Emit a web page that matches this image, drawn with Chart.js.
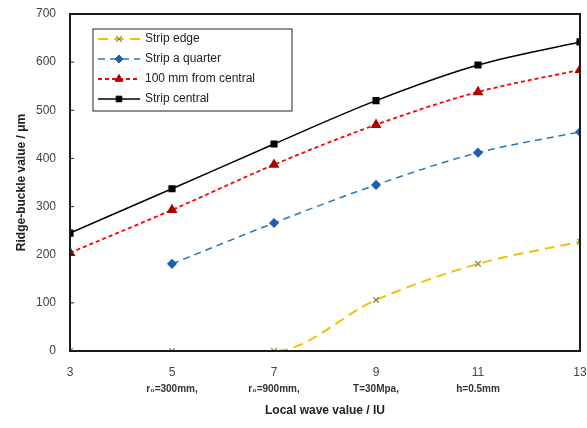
<!DOCTYPE html>
<html>
<head>
<meta charset="utf-8">
<script src="https://cdn.jsdelivr.net/npm/chart.js@4"></script>
<style>
  html, body { margin: 0; padding: 0; background: #fff; }
  #wrap { width: 587px; height: 428px; }
</style>
</head>
<body>
<div id="wrap"><canvas id="chart" width="587" height="428"></canvas></div>
<script>
// Values
const waveValues = [3, 5, 7, 9, 11, 13]
const stripEdge = [0, 0, 0, 106, 181, 227]
const stripQuarter = [null, 181, 266, 345, 412, 455]
const from100mm = [204, 293, 387, 470, 538, 584]
const stripCentral = [245, 337, 430, 520, 594, 642]
const subLabels = {5: 'r\u2080=300mm,', 7: 'r\u2080=900mm,', 9: 'T=30Mpa,', 11: 'h=0.5mm'}
const seriesNames = ['Strip edge', 'Strip a quarter', '100 mm from central', 'Strip central']

const FONT = "'Liberation Sans', Arial, sans-serif"

function toPoints(vals) {
  return waveValues.map((x, i) => ({x: x, y: vals[i]})).filter(p => p.y !== null)
}

const datasets = [{
  label: seriesNames[0],
  data: toPoints(stripEdge),
  borderColor: '#f2c200',
  borderWidth: 2,
  borderDash: [10, 6],
  pointStyle: 'crossRot',
  pointRadius: 4,
  pointBackgroundColor: '#8a7a50',
  pointBorderColor: '#8a7a50',
  pointBorderWidth: 1.2,
  cubicInterpolationMode: 'monotone'
}, {
  label: seriesNames[1],
  data: toPoints(stripQuarter),
  borderColor: '#2e75b6',
  borderWidth: 1.5,
  borderDash: [7, 5],
  pointStyle: 'rectRot',
  pointRadius: 4,
  pointBackgroundColor: '#1f5fb0',
  pointBorderColor: '#1f5fb0',
  cubicInterpolationMode: 'monotone'
}, {
  label: seriesNames[2],
  data: toPoints(from100mm),
  borderColor: '#ff0000',
  borderWidth: 1.8,
  borderDash: [4, 3],
  pointStyle: 'triangle',
  pointRadius: 4.5,
  pointBackgroundColor: '#b00000',
  pointBorderColor: '#b00000',
  cubicInterpolationMode: 'monotone'
}, {
  label: seriesNames[3],
  data: toPoints(stripCentral),
  borderColor: '#000',
  borderWidth: 1.5,
  pointStyle: 'rect',
  pointRadius: 4,
  pointBackgroundColor: '#000',
  pointBorderColor: '#000',
  cubicInterpolationMode: 'monotone'
}]

// frame, sub labels under the x ticks, and the boxed legend
const decor = {
  id: 'decor',
  afterDatasetsDraw(chart) {
    const {ctx, chartArea: a, scales} = chart
    ctx.save()
    ctx.strokeStyle = '#1a1a1a'
    ctx.lineWidth = 2
    ctx.strokeRect(a.left, a.top, a.right - a.left, a.bottom - a.top)

    // small inward ticks on the y axis
    ctx.lineWidth = 1
    scales.y.ticks.forEach(t => {
      const y = scales.y.getPixelForValue(t.value)
      ctx.beginPath()
      ctx.moveTo(a.left, y)
      ctx.lineTo(a.left + 4, y)
      ctx.stroke()
    })

    ctx.fillStyle = '#333'
    ctx.font = 'bold 10px ' + FONT
    ctx.textAlign = 'center'
    ctx.textBaseline = 'middle'
    Object.keys(subLabels).forEach(k => {
      ctx.fillText(subLabels[k], scales.x.getPixelForValue(+k), a.bottom + 38)
    })

    // legend
    const lx = 93, ly = 29, lw = 199, lh = 82
    ctx.fillStyle = '#fff'
    ctx.fillRect(lx, ly, lw, lh)
    ctx.strokeStyle = '#222'
    ctx.lineWidth = 1
    ctx.strokeRect(lx, ly, lw, lh)
    ctx.font = '12px ' + FONT
    ctx.textAlign = 'left'
    chart.data.datasets.forEach((ds, i) => {
      const y = ly + 10 + i * 20
      ctx.save()
      ctx.strokeStyle = ds.borderColor
      ctx.lineWidth = ds.borderWidth
      ctx.setLineDash(ds.borderDash || [])
      ctx.beginPath()
      ctx.moveTo(lx + 5, y)
      ctx.lineTo(lx + 47, y)
      ctx.stroke()
      ctx.setLineDash([])
      ctx.fillStyle = ds.pointBackgroundColor
      ctx.strokeStyle = ds.pointBorderColor
      ctx.lineWidth = ds.pointBorderWidth || 1
      Chart.helpers.drawPoint(ctx, {
        pointStyle: ds.pointStyle,
        radius: ds.pointRadius,
        rotation: 0,
        borderWidth: ds.pointBorderWidth || 1
      }, lx + 26, y)
      ctx.restore()
      ctx.fillStyle = '#222'
      ctx.fillText(ds.label, lx + 52, y)
    })
    ctx.restore()
  }
}

const chart = new Chart(document.getElementById('chart'), {
  type: 'line',
  data: {datasets: datasets},
  plugins: [decor],
  options: {
    responsive: false,
    animation: false,
    layout: {padding: {top: 14, right: 0, left: 10, bottom: 0}},
    plugins: {legend: {display: false}, tooltip: {enabled: false}},
    scales: {
      x: {
        type: 'linear',
        min: 3,
        max: 13,
        grid: {display: false, drawTicks: false},
        border: {display: false},
        ticks: {stepSize: 2, color: '#444', padding: 14, font: {family: FONT, size: 12}},
        title: {display: true, text: 'Local wave value / IU', color: '#222',
          padding: {top: 4, bottom: 10}, font: {family: FONT, size: 12, weight: 'bold'}},
        afterFit(s) { s.height = 77; s.paddingRight = 7 }
      },
      y: {
        min: 0,
        max: 700,
        grid: {display: false, drawTicks: false},
        border: {display: false},
        ticks: {stepSize: 100, color: '#444', padding: 14, font: {family: FONT, size: 12}},
        title: {display: true, text: 'Ridge-buckle value / \u03bcm', color: '#222',
          padding: {bottom: 4}, font: {family: FONT, size: 12, weight: 'bold'}},
        afterFit(s) { s.width = 60; s.paddingTop = 0 }
      }
    }
  }
})
</script>
</body>
</html>
